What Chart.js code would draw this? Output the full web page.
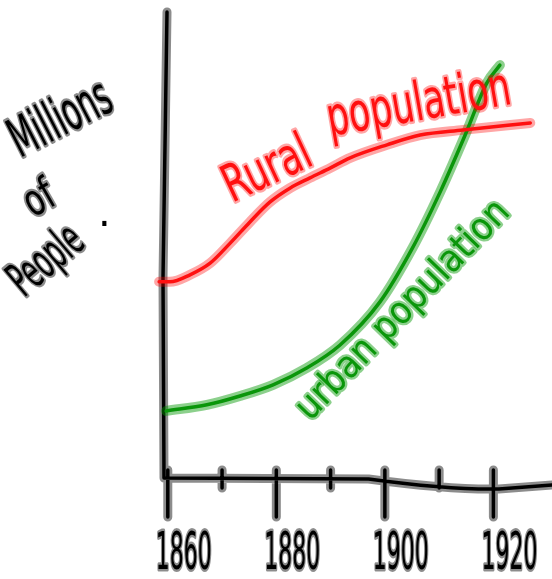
<!DOCTYPE html>
<html>
<head>
<meta charset="utf-8">
<title>Rural and urban population</title>
<script src="https://cdn.jsdelivr.net/npm/chart.js@4/dist/chart.umd.min.js"></script>
<style>
  html, body { margin: 0; padding: 0; background: #fff; }
  #wrap { width: 552px; height: 579px; }
</style>
</head>
<body>
<div id="wrap"><canvas id="grafico" width="552" height="579"></canvas></div>
<script>
// Values (y has no scale, arbitrary units 0-100)
const tickYears = [1860, 1870, 1880, 1890, 1900, 1910, 1920];
const labelYears = [1860, 1880, 1900, 1920];

const ruralYears = [1858.4, 1860.4, 1864.1, 1867.8, 1871.5, 1875.1, 1878.8, 1882.5, 1886.2, 1889.9, 1893.6, 1900.4, 1906.5, 1914.4, 1926.8];
const ruralValues = [42.1, 42.1, 43.6, 46.1, 50.4, 54.9, 59.2, 62.2, 64.4, 66.5, 68.7, 71.5, 73.6, 74.7, 76.2];

const urbanYears = [1859.7, 1867.2, 1873.3, 1879.4, 1885.6, 1891.7, 1899.1, 1905.2, 1910.2, 1914.8, 1918.8, 1921.2];
const urbanValues = [14.4, 15.7, 17.6, 20.0, 23.6, 28.5, 37.8, 49.6, 61.4, 73.6, 84.8, 88.6];

function serie(anos, valores) {
    return anos.map((ano, i) => ({ x: ano, y: valores[i] }));
}

const linhaBase = {
    pointRadius: 0,
    fill: false,
    tension: 0.4,
    cubicInterpolationMode: 'monotone',
    clip: false,
    borderCapStyle: 'round',
    borderJoinStyle: 'round'
};

// hand-drawn look: black axes with a grey halo, ticks crossing the axis
const eixos = {
    id: 'eixos',
    beforeDatasetsDraw(chart) {
        const { ctx, chartArea } = chart;
        const x = chart.scales.x;
        const left = chartArea.left, bottom = chartArea.bottom;
        const caminho = () => {
            ctx.beginPath();
            ctx.moveTo(left + 3, chartArea.top);
            ctx.lineTo(left - 1, bottom - 200);
            ctx.lineTo(left, bottom);
            ctx.lineTo(x.getPixelForValue(1897), bottom + 1);
            ctx.quadraticCurveTo(x.getPixelForValue(1912), bottom + 12, x.getPixelForValue(1921), bottom + 11);
            ctx.lineTo(chartArea.right, bottom + 7);
            tickYears.forEach(ano => {
                const px = x.getPixelForValue(ano);
                const maior = labelYears.includes(ano);
                ctx.moveTo(px, bottom - 8);
                ctx.lineTo(px, bottom + (maior ? 39 : 10));
            });
        };
        ctx.save();
        ctx.lineCap = 'round';
        ctx.lineJoin = 'round';
        caminho();
        ctx.strokeStyle = 'rgba(0,0,0,0.45)';
        ctx.lineWidth = 9;
        ctx.stroke();
        caminho();
        ctx.strokeStyle = '#000';
        ctx.lineWidth = 3.5;
        ctx.stroke();
        ctx.restore();
    }
};

function escrever(ctx, texto, x, y, angulo, tamanho, comprimento, cor, halo, alinhar) {
    ctx.save();
    ctx.translate(x, y);
    ctx.rotate(angulo * Math.PI / 180);
    ctx.font = tamanho + 'px "DejaVu Sans"';
    const largura = ctx.measureText(texto).width;
    if (comprimento) ctx.scale(comprimento / largura, 1);
    ctx.textAlign = alinhar || 'left';
    ctx.textBaseline = 'alphabetic';
    ctx.lineJoin = 'round';
    if (halo) {
        ctx.strokeStyle = halo;
        ctx.lineWidth = 5;
        ctx.strokeText(texto, 0, 0);
    }
    ctx.fillStyle = cor;
    ctx.fillText(texto, 0, 0);
    ctx.restore();
}

// tick labels: text and position come from the x scale, drawn narrow like the sketch
const rotulos = {
    id: 'rotulos',
    afterDraw(chart) {
        const x = chart.scales.x;
        const base = chart.chartArea.bottom;
        x.ticks.forEach((tick, i) => {
            if (!tick.label) return;
            const px = x.getPixelForTick(i) + 16;
            escrever(chart.ctx, tick.label, px, base + 91, 0, 52, 56, '#000', 'rgba(0,0,0,0.45)', 'center');
        });
    }
};

// handwritten annotations
const anotacoes = {
    id: 'anotacoes',
    afterDraw(chart) {
        const ctx = chart.ctx;
        const preto = 'rgba(0,0,0,0.45)';
        escrever(ctx, 'Rural', 232, 203, -25, 52, 92, '#ff1010', 'rgba(255,0,0,0.35)');
        escrever(ctx, 'population', 330, 136, -10, 54, 186, '#ff1010', 'rgba(255,0,0,0.35)');
        escrever(ctx, 'urban population', 310, 422, -46, 38, 290, '#0a960a', 'rgba(0,150,0,0.45)');
        escrever(ctx, 'Millions', 20, 158, -27, 54, 108, '#000', preto);
        escrever(ctx, 'of', 33, 218, -30, 44, 30, '#000', preto);
        escrever(ctx, 'People', 24, 298, -40, 48, 82, '#000', preto);
        escrever(ctx, '.', 98, 226, 0, 40, null, '#000', null);
    }
};

const ctx = document.getElementById('grafico').getContext('2d');
new Chart(ctx, {
    type: 'line',
    data: {
        datasets: [
            Object.assign({}, linhaBase, {
                label: 'Rural population',
                data: serie(ruralYears, ruralValues),
                borderColor: '#ff1010',
                borderWidth: 3.5,
                order: 1
            }),
            Object.assign({}, linhaBase, {
                label: 'Rural halo',
                data: serie(ruralYears, ruralValues),
                borderColor: 'rgba(255,0,0,0.35)',
                borderWidth: 10,
                order: 3
            }),
            Object.assign({}, linhaBase, {
                label: 'Urban population',
                data: serie(urbanYears, urbanValues),
                borderColor: '#0a960a',
                borderWidth: 3.5,
                order: 2
            }),
            Object.assign({}, linhaBase, {
                label: 'Urban halo',
                data: serie(urbanYears, urbanValues),
                borderColor: 'rgba(0,150,0,0.45)',
                borderWidth: 10,
                order: 4
            })
        ]
    },
    options: {
        responsive: false,
        animation: false,
        layout: { padding: { left: 164, top: 12, right: 0, bottom: 0 } },
        plugins: {
            legend: { display: false },
            tooltip: { enabled: false }
        },
        scales: {
            x: {
                type: 'linear',
                min: 1859.3,
                max: 1930.8,
                afterBuildTicks: scale => {
                    scale.ticks = tickYears.map(v => ({ value: v }));
                },
                afterFit: scale => {
                    scale.height = 101;
                    scale.paddingLeft = 0;
                    scale.paddingRight = 0;
                },
                grid: { display: false, drawTicks: false },
                border: { display: false },
                ticks: {
                    display: false,
                    autoSkip: false,
                    callback: value => labelYears.includes(value) ? String(value) : ''
                }
            },
            y: {
                display: false,
                min: 0,
                max: 100
            }
        }
    },
    plugins: [eixos, rotulos, anotacoes]
});
</script>
</body>
</html>
